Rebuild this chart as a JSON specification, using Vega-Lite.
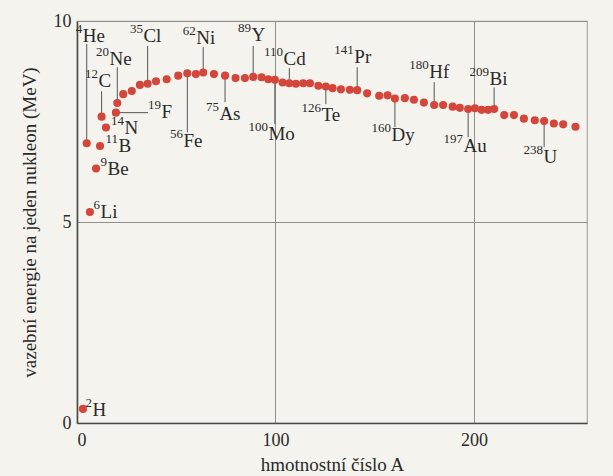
{
  "$schema": "https://vega.github.io/schema/vega-lite/v6.json",
  "width": 510,
  "height": 402,
  "autosize": "none",
  "padding": {"left": 77, "top": 21, "right": 26, "bottom": 53},
  "background": "#f4f3ee",
  "config": {
    "view": {"stroke": "#a9a9a4", "strokeWidth": 1.2},
    "font": "Liberation Serif",
    "axisX": {
      "grid": true, "gridColor": "#8f8f8b", "gridWidth": 1,
      "domainColor": "#4a4a48", "domainWidth": 1.6, "ticks": false,
      "labelFont": "Liberation Serif", "labelFontSize": 18, "labelColor": "#2a2a2a", "labelPadding": 8,
      "titleFont": "Liberation Serif", "titleFontSize": 19,
      "titleFontWeight": "normal", "titleColor": "#2a2a2a", "titlePadding": 6
    },
    "axisY": {
      "grid": true, "gridColor": "#8f8f8b", "gridWidth": 1,
      "domainColor": "#4a4a48", "domainWidth": 1.6, "ticks": false,
      "labelFont": "Liberation Serif", "labelFontSize": 18, "labelColor": "#2a2a2a", "labelPadding": 6,
      "titleFont": "Liberation Serif", "titleFontSize": 19,
      "titleFontWeight": "normal", "titleColor": "#2a2a2a", "titlePadding": 14
    }
  },
  "datasets": {
    "points": [
      {"A": 3.0, "E": 0.35}, {"A": 6.5, "E": 5.25}, {"A": 4.9, "E": 6.96}, {"A": 9.6, "E": 6.33},
      {"A": 11.6, "E": 6.89}, {"A": 12.4, "E": 7.62}, {"A": 14.6, "E": 7.35}, {"A": 19.6, "E": 7.72},
      {"A": 20.3, "E": 7.96}, {"A": 23.3, "E": 8.18}, {"A": 27.6, "E": 8.26}, {"A": 31.7, "E": 8.41},
      {"A": 35.6, "E": 8.44}, {"A": 39.8, "E": 8.50}, {"A": 45.2, "E": 8.55}, {"A": 51.0, "E": 8.64},
      {"A": 55.6, "E": 8.70}, {"A": 59.9, "E": 8.68}, {"A": 63.6, "E": 8.72}, {"A": 69.0, "E": 8.68},
      {"A": 74.6, "E": 8.64}, {"A": 79.9, "E": 8.58}, {"A": 84.6, "E": 8.58}, {"A": 88.8, "E": 8.61},
      {"A": 93.0, "E": 8.60}, {"A": 96.4, "E": 8.55}, {"A": 99.7, "E": 8.54}, {"A": 103.6, "E": 8.47},
      {"A": 107.0, "E": 8.45}, {"A": 110.3, "E": 8.44}, {"A": 114.0, "E": 8.45}, {"A": 117.4, "E": 8.45},
      {"A": 121.6, "E": 8.39}, {"A": 125.4, "E": 8.37}, {"A": 128.8, "E": 8.33}, {"A": 133.0, "E": 8.30},
      {"A": 137.5, "E": 8.29}, {"A": 141.2, "E": 8.28}, {"A": 146.2, "E": 8.20}, {"A": 152.3, "E": 8.14},
      {"A": 156.5, "E": 8.15}, {"A": 160.2, "E": 8.07}, {"A": 165.2, "E": 8.08}, {"A": 169.8, "E": 8.04},
      {"A": 174.8, "E": 7.97}, {"A": 180.0, "E": 7.91}, {"A": 184.5, "E": 7.91}, {"A": 189.3, "E": 7.87},
      {"A": 192.9, "E": 7.84}, {"A": 197.1, "E": 7.81}, {"A": 200.5, "E": 7.83}, {"A": 203.9, "E": 7.79},
      {"A": 207.2, "E": 7.79}, {"A": 210.2, "E": 7.81}, {"A": 215.3, "E": 7.66}, {"A": 220.2, "E": 7.66},
      {"A": 225.2, "E": 7.57}, {"A": 230.7, "E": 7.53}, {"A": 235.4, "E": 7.51}, {"A": 240.3, "E": 7.45},
      {"A": 245.0, "E": 7.43}, {"A": 251.2, "E": 7.37}
    ],
    "labels": [
      {"m": "2", "s": "H", "lx": 7.6, "ly": 0.32},
      {"m": "6", "s": "Li", "lx": 11.6, "ly": 5.24},
      {"m": "9", "s": "Be", "lx": 15.1, "ly": 6.33},
      {"m": "4", "s": "He", "lx": 2.7, "ly": 9.63},
      {"m": "11", "s": "B", "lx": 20.7, "ly": 6.88},
      {"m": "12", "s": "C", "lx": 10.6, "ly": 8.5},
      {"m": "14", "s": "N", "lx": 23.7, "ly": 7.33},
      {"m": "19", "s": "F", "lx": 42.3, "ly": 7.73},
      {"m": "20", "s": "Ne", "lx": 16.1, "ly": 9.05},
      {"m": "35", "s": "Cl", "lx": 33.2, "ly": 9.63},
      {"m": "56", "s": "Fe", "lx": 53.4, "ly": 7.01},
      {"m": "62", "s": "Ni", "lx": 59.9, "ly": 9.58},
      {"m": "75", "s": "As", "lx": 71.5, "ly": 7.68},
      {"m": "89", "s": "Y", "lx": 87.7, "ly": 9.65},
      {"m": "100", "s": "Mo", "lx": 96.2, "ly": 7.18},
      {"m": "110", "s": "Cd", "lx": 103.8, "ly": 9.05},
      {"m": "126", "s": "Te", "lx": 122.9, "ly": 7.66},
      {"m": "141", "s": "Pr", "lx": 139.5, "ly": 9.1},
      {"m": "160", "s": "Dy", "lx": 158.2, "ly": 7.16},
      {"m": "180", "s": "Hf", "lx": 177.3, "ly": 8.73},
      {"m": "197", "s": "Au", "lx": 194.5, "ly": 6.88},
      {"m": "209", "s": "Bi", "lx": 207.6, "ly": 8.55},
      {"m": "238", "s": "U", "lx": 234.8, "ly": 6.61}
    ],
    "leaders": [
      {"x1": 4.9, "x2": 4.9, "y1": 9.43, "y2": 6.96},
      {"x1": 12.4, "x2": 12.4, "y1": 8.25, "y2": 7.62},
      {"x1": 20.3, "x2": 20.3, "y1": 8.85, "y2": 7.96},
      {"x1": 35.6, "x2": 35.6, "y1": 9.38, "y2": 8.44},
      {"x1": 63.6, "x2": 63.6, "y1": 9.35, "y2": 8.72},
      {"x1": 55.6, "x2": 55.6, "y1": 8.70, "y2": 7.23},
      {"x1": 74.6, "x2": 74.6, "y1": 8.64, "y2": 7.98},
      {"x1": 88.8, "x2": 88.8, "y1": 9.38, "y2": 8.61},
      {"x1": 107.0, "x2": 107.0, "y1": 8.83, "y2": 8.45},
      {"x1": 141.2, "x2": 141.2, "y1": 8.85, "y2": 8.28},
      {"x1": 125.4, "x2": 125.4, "y1": 8.37, "y2": 7.93},
      {"x1": 99.7, "x2": 99.7, "y1": 8.54, "y2": 7.43},
      {"x1": 160.2, "x2": 160.2, "y1": 8.07, "y2": 7.36},
      {"x1": 180.0, "x2": 180.0, "y1": 8.48, "y2": 7.91},
      {"x1": 210.2, "x2": 210.2, "y1": 8.35, "y2": 7.81},
      {"x1": 197.1, "x2": 197.1, "y1": 7.81, "y2": 7.11},
      {"x1": 235.4, "x2": 235.4, "y1": 7.51, "y2": 6.86},
      {"x1": 19.6, "x2": 35.8, "y1": 7.72, "y2": 7.72}
    ]
  },
  "layer": [
    {
      "data": {"name": "leaders"},
      "mark": {"type": "rule", "color": "#555555", "strokeWidth": 1},
      "encoding": {
        "x": {"field": "x1", "type": "quantitative", "scale": {"domain": [0, 257], "nice": false, "zero": false}, "title": "hmotnostní číslo A", "axis": {"values": [0, 100, 200]}},
        "x2": {"field": "x2"},
        "y": {"field": "y1", "type": "quantitative", "scale": {"domain": [0, 10], "nice": false, "zero": false}, "title": "vazební energie na jeden nukleon (MeV)", "axis": {"values": [0, 5, 10]}},
        "y2": {"field": "y2"}
      }
    },
    {
      "data": {"name": "points"},
      "mark": {"type": "circle", "size": 66, "color": "#d4453a", "opacity": 1},
      "encoding": {
        "x": {"field": "A", "type": "quantitative", "title": "hmotnostní číslo A", "axis": {"values": [0, 100, 200]}},
        "y": {"field": "E", "type": "quantitative", "title": "vazební energie na jeden nukleon (MeV)", "axis": {"values": [0, 5, 10]}}
      }
    },
    {
      "data": {"name": "labels"},
      "mark": {"type": "text", "align": "right", "baseline": "middle", "dy": -7, "fontSize": 13, "font": "Liberation Serif", "color": "#2a2a2a"},
      "encoding": {
        "x": {"field": "lx", "type": "quantitative", "title": "hmotnostní číslo A", "axis": {"values": [0, 100, 200]}},
        "y": {"field": "ly", "type": "quantitative", "title": "vazební energie na jeden nukleon (MeV)", "axis": {"values": [0, 5, 10]}},
        "text": {"field": "m"}
      }
    },
    {
      "data": {"name": "labels"},
      "mark": {"type": "text", "align": "left", "baseline": "middle", "dx": 0.5, "fontSize": 19, "font": "Liberation Serif", "color": "#2a2a2a"},
      "encoding": {
        "x": {"field": "lx", "type": "quantitative", "title": "hmotnostní číslo A", "axis": {"values": [0, 100, 200]}},
        "y": {"field": "ly", "type": "quantitative", "title": "vazební energie na jeden nukleon (MeV)", "axis": {"values": [0, 5, 10]}},
        "text": {"field": "s"}
      }
    }
  ]
}
